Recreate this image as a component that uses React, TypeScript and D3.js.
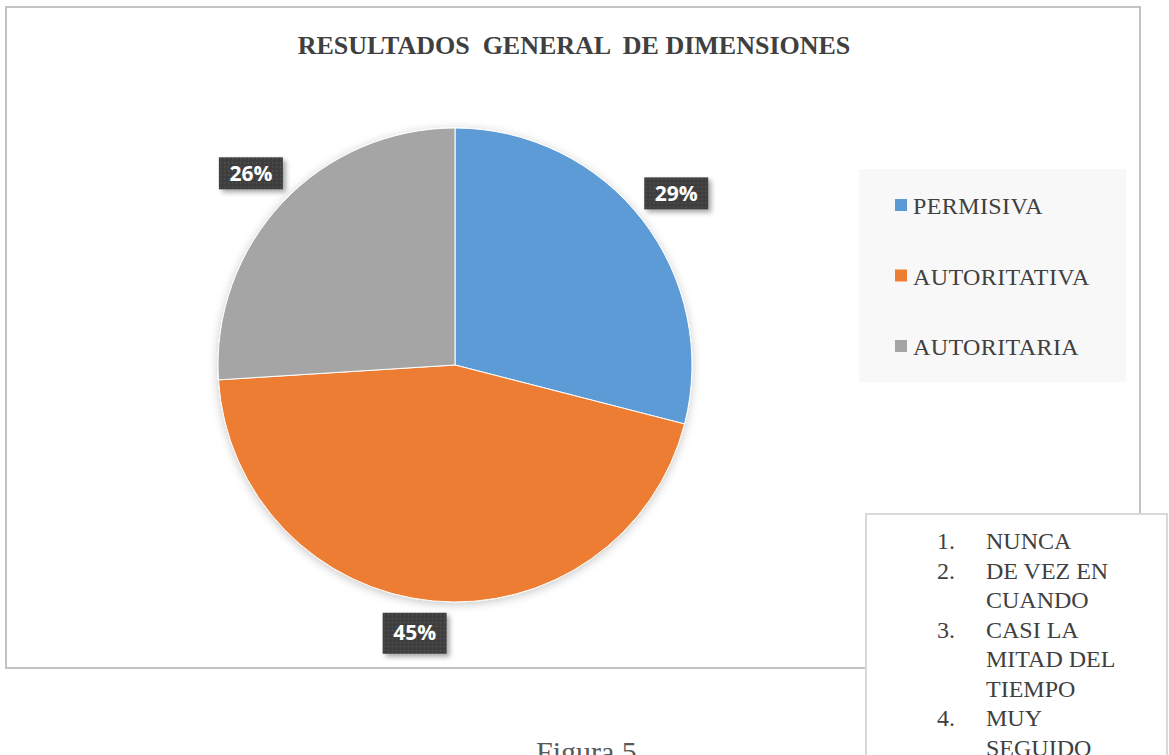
import { useEffect, useRef } from "react"
import * as d3 from "d3"

const categories = ["PERMISIVA", "AUTORITATIVA", "AUTORITARIA"]
const values = [29, 45, 26]
const colors = ["#5B9BD5", "#ED7D31", "#A5A5A5"]
const title = "RESULTADOS  GENERAL  DE DIMENSIONES"
const noteNumbers = ["1.", "2.", "", "3.", "", "", "4.", ""]
const noteLines = ["NUNCA", "DE VEZ EN", "CUANDO", "CASI LA", "MITAD DEL", "TIEMPO", "MUY", "SEGUIDO"]
const caption = "Figura 5"

export default function App() {
    const ref = useRef<SVGSVGElement>(null)

    useEffect(() => {
        const svg = d3.select(ref.current)
        svg.selectAll("*").remove()

        const defs = svg.append("defs")

        const pieShadow = defs.append("filter").attr("id", "pieShadow")
            .attr("x", "-20%").attr("y", "-20%").attr("width", "140%").attr("height", "140%")
        pieShadow.append("feDropShadow")
            .attr("dx", 0).attr("dy", 2).attr("stdDeviation", 5)
            .attr("flood-color", "#000").attr("flood-opacity", 0.22)

        const labelShadow = defs.append("filter").attr("id", "labelShadow")
            .attr("x", "-30%").attr("y", "-30%").attr("width", "160%").attr("height", "160%")
        labelShadow.append("feDropShadow")
            .attr("dx", 3).attr("dy", 3).attr("stdDeviation", 2.5)
            .attr("flood-color", "#000").attr("flood-opacity", 0.35)

        const dots = defs.append("pattern").attr("id", "dots")
            .attr("patternUnits", "userSpaceOnUse").attr("width", 4).attr("height", 4)
        dots.append("rect").attr("width", 4).attr("height", 4).attr("fill", "#3e3e3e")
        dots.append("rect").attr("x", 1).attr("y", 1).attr("width", 1.4).attr("height", 1.4).attr("fill", "#575757")

        // chart frame
        svg.append("rect")
            .attr("x", 6).attr("y", 7).attr("width", 1134).attr("height", 661)
            .attr("fill", "#fff").attr("stroke", "#c3c3c3").attr("stroke-width", 2)

        svg.append("text")
            .attr("x", 574).attr("y", 54)
            .attr("text-anchor", "middle")
            .style("white-space", "pre")
            .attr("font-family", "'Liberation Serif', 'Times New Roman', serif")
            .attr("font-weight", "bold")
            .attr("font-size", 26)
            .attr("fill", "#404040")
            .text(title)

        // pie
        const cx = 455, cy = 365, radius = 237
        const pie = d3.pie<number>().sort(null).value((d) => d)
        const arcs = pie(values)
        const arc = d3.arc<d3.PieArcDatum<number>>().innerRadius(0).outerRadius(radius)
        const labelArc = d3.arc<d3.PieArcDatum<number>>().innerRadius(280).outerRadius(280)

        const g = svg.append("g").attr("transform", `translate(${cx}, ${cy})`)
        g.append("g").attr("filter", "url(#pieShadow)")
            .selectAll("path")
            .data(arcs)
            .join("path")
            .attr("d", arc)
            .attr("fill", (d, i) => colors[i])
            .attr("stroke", "#fff")
            .attr("stroke-width", 1)

        const total = d3.sum(values)
        const labels = g.selectAll(".label")
            .data(arcs)
            .join("g")
            .classed("label", true)
            .attr("transform", (d) => {
                const [x, y] = labelArc.centroid(d)
                // Excel nudges the bottom label back toward the pie
                return d.data === d3.max(values) ? `translate(${x - 14}, ${y - 11})` : `translate(${x}, ${y})`
            })

        labels.append("rect")
            .attr("x", -32).attr("y", (d) => d.data === d3.max(values) ? -20 : -16)
            .attr("width", 64).attr("height", (d) => d.data === d3.max(values) ? 41 : 32)
            .attr("fill", "url(#dots)")
            .attr("filter", "url(#labelShadow)")

        labels.append("text")
            .attr("text-anchor", "middle")
            .attr("dy", "0.36em")
            .attr("font-family", "'Open Sans', sans-serif")
            .attr("font-weight", "bold")
            .attr("font-size", 21)
            .attr("fill", "#fff")
            .text((d) => d3.format(".0%")(d.data / total))

        // legend
        const legend = svg.append("g")
        legend.append("rect")
            .attr("x", 859).attr("y", 169).attr("width", 267).attr("height", 213)
            .attr("fill", "#f8f8f8")

        const legendY = d3.scalePoint<string>().domain(categories).range([205, 346])
        const items = legend.selectAll(".item")
            .data(categories)
            .join("g")
            .classed("item", true)
            .attr("transform", (d) => `translate(895, ${legendY(d)})`)

        items.append("rect")
            .attr("x", 0).attr("y", -6).attr("width", 12).attr("height", 12)
            .attr("fill", (d, i) => colors[i])

        items.append("text")
            .attr("x", 18).attr("y", 9)
            .attr("font-family", "'Liberation Serif', 'Times New Roman', serif")
            .attr("font-size", 24)
            .attr("letter-spacing", 0.4)
            .attr("fill", "#404040")
            .text((d) => d)

        // text box overlapping the frame
        svg.append("rect")
            .attr("x", 866).attr("y", 514).attr("width", 301).attr("height", 260)
            .attr("fill", "#fff").attr("stroke", "#d9d9d9").attr("stroke-width", 2)

        const lineY = d3.scaleLinear().domain([0, 1]).range([549, 578.5])
        const note = svg.append("g")
            .attr("font-family", "'Liberation Serif', 'Times New Roman', serif")
            .attr("font-size", 24)
            .attr("fill", "#404040")

        note.selectAll(".num")
            .data(noteNumbers)
            .join("text")
            .classed("num", true)
            .attr("x", 937).attr("y", (d, i) => lineY(i))
            .text((d) => d)

        note.selectAll(".line")
            .data(noteLines)
            .join("text")
            .classed("line", true)
            .attr("x", 986).attr("y", (d, i) => lineY(i))
            .text((d) => d)

        svg.append("text")
            .attr("x", 536).attr("y", 762)
            .attr("font-family", "'Liberation Serif', 'Times New Roman', serif")
            .attr("font-size", 30)
            .attr("fill", "#595959")
            .text(caption)
    }, [])

    return (
        <svg
            ref={ref}
            width={1169}
            height={755}
            style={{ position: "absolute", left: 0, top: 0, display: "block", background: "#fff" }}
        />
    )
}
